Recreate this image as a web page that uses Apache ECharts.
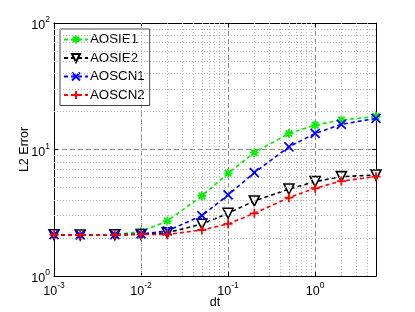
<!DOCTYPE html>
<html>
<head>
<meta charset="utf-8">
<script src="https://cdn.jsdelivr.net/npm/echarts@6/dist/echarts.min.js"></script>
<style>html,body{margin:0;padding:0;background:#fff}#c{width:415px;height:312px}</style>
</head>
<body>
<div id="c"></div>
<script>
const dt = [0.001, 0.002, 0.005, 0.01, 0.02, 0.05, 0.1, 0.2, 0.5, 1, 2, 5];
const AOSIE1 = [2.12, 2.11, 2.12, 2.25, 2.72, 4.3, 6.48, 9.44, 13.4, 15.6, 17.1, 18.2];
const AOSIE2 = [2.12, 2.11, 2.12, 2.13, 2.2, 2.57, 3.13, 3.92, 4.87, 5.57, 6.1, 6.29];
const AOSCN1 = [2.12, 2.11, 2.12, 2.15, 2.27, 3.0, 4.37, 6.56, 10.5, 13.4, 15.8, 17.6];
const AOSCN2 = [2.12, 2.11, 2.12, 2.13, 2.13, 2.31, 2.58, 3.13, 4.16, 4.94, 5.63, 6.1];
const names = ['AOSIE1', 'AOSIE2', 'AOSCN1', 'AOSCN2'];
const xMin = 0.001, xMax = 5, yMin = 1, yMax = 100;

const FONT = 'Liberation Sans';
function powLabel(v) {
  const e = Math.round(Math.log10(v));
  if (Math.abs(v - Math.pow(10, e)) / Math.pow(10, e) > 1e-6) return '';
  return '{a|10}{b|' + e + '}';
}
const rich = {
  a: {fontFamily: FONT, fontSize: 12.5, color: '#000', padding: [6, 0, 0, 0]},
  b: {fontFamily: FONT, fontSize: 8.5, color: '#000', padding: [0, 0, 6, 0]}
};

// minor grid positions
const minorX = [], minorY = [];
for (let d = -3; d <= 0; d++) for (let k = 2; k <= 9; k++) {
  const v = k * Math.pow(10, d);
  if (v < xMax) minorX.push(v);
}
for (let d = 0; d <= 1; d++) for (let k = 2; k <= 9; k++) minorY.push(k * Math.pow(10, d));

const P = (d) => 'path://' + d;
const sym = {
  star: P('M5,0V10M0,5H10M1.5,1.5L8.5,8.5M8.5,1.5L1.5,8.5'),
  x: P('M0,0L10,10M10,0L0,10'),
  plus: P('M5,0V10M0,5H10')
};

function axisCommon(pos, isX) {
  return {
    type: 'log', logBase: 10,
    min: isX ? xMin : yMin, max: isX ? xMax : yMax,
    position: pos,
    splitNumber: isX ? 4 : 2,
    axisLine: {show: true, onZero: false, lineStyle: {color: '#000', width: 1}},
    axisTick: {show: true, inside: true, length: 4, lineStyle: {color: '#000'}},
    splitLine: {show: false},
    axisLabel: {show: false}
  };
}

const xMain = Object.assign(axisCommon('bottom', true), {
  name: 'dt', nameLocation: 'middle', nameGap: 20, nameMoveOverlap: false,
  nameTextStyle: {fontFamily: FONT, fontSize: 12.5, color: '#000'},
  splitLine: {show: true, lineStyle: {color: '#888', type: [5, 3], width: 1}},
  axisLabel: {show: true, formatter: powLabel, rich: rich, margin: 3, showMaxLabel: false}
});
const xTop = axisCommon('top', true);
const yMain = Object.assign(axisCommon('left', false), {
  name: 'L2 Error', nameLocation: 'middle', nameGap: 23, nameMoveOverlap: false,
  nameTextStyle: {fontFamily: FONT, fontSize: 12.5, color: '#000'},
  splitLine: {show: true, lineStyle: {color: '#888', type: [5, 3], width: 1}},
  axisLabel: {show: true, formatter: powLabel, rich: rich, margin: 4}
});
const yRight = axisCommon('right', false);

const colors = ['#00ee00', '#000000', '#0000ff', '#ff0000'];
const dataArr = [AOSIE1, AOSIE2, AOSCN1, AOSCN2];
const symbols = [sym.star, 'triangle', sym.x, sym.plus];

const series = [{
  type: 'line', data: [], z: 1, silent: true, xAxisIndex: 0, yAxisIndex: 0,
  markLine: {
    silent: true, symbol: 'none', animation: false, label: {show: false},
    lineStyle: {color: '#b4b4b4', type: [1, 2], width: 1},
    data: minorX.map(v => ({xAxis: v})).concat(minorY.map(v => ({yAxis: v})))
  }
}];
names.forEach((n, i) => {
  const isTri = symbols[i] === 'triangle';
  series.push({
    name: n, type: 'line', z: 3 + i,
    data: dt.map((x, j) => [x, dataArr[i][j]]),
    symbol: symbols[i],
    symbolSize: isTri ? 10 : 9,
    symbolRotate: isTri ? 180 : 0,
    showAllSymbol: true,
    lineStyle: {color: colors[i], width: 1.6, type: [4, 3]},
    itemStyle: {
      color: isTri ? '#fff' : colors[i],
      borderColor: colors[i], borderWidth: isTri ? 1.6 : 1.8
    },
    emphasis: {disabled: true},
    animation: false
  });
});

const chart = echarts.init(document.getElementById('c'), null, {renderer: 'canvas'});
chart.setOption({
  animation: false,
  backgroundColor: '#fff',
  textStyle: {fontFamily: FONT},
  grid: {left: 54, top: 23, right: 39, bottom: 36, containLabel: false, outerBoundsMode: 'none'},
  legend: {
    data: names, orient: 'vertical', left: 60, top: 29,
    backgroundColor: '#fff', borderColor: '#444', borderWidth: 1,
    padding: [4, 5, 4, 3], itemGap: 5.5, itemWidth: 24, itemHeight: 10,
    textStyle: {fontFamily: FONT, fontSize: 13.3, color: '#000', padding: [0, 0, 0, -3]},
    selectedMode: false
  },
  xAxis: [xMain, xTop],
  yAxis: [yMain, yRight],
  series: series
});
</script>
</body>
</html>
